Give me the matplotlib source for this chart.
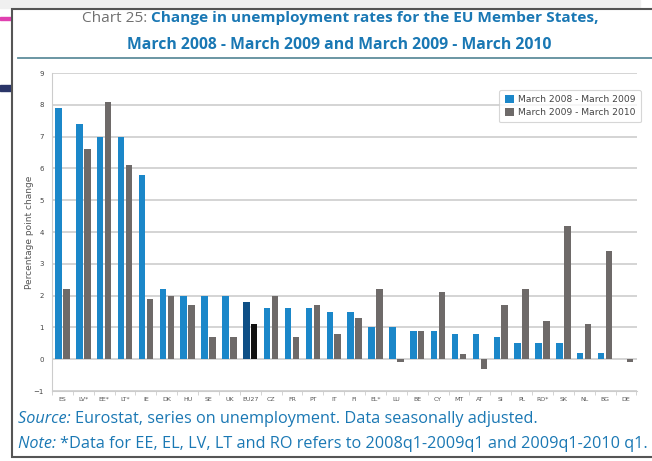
import numpy as np
import matplotlib.pyplot as plt
from matplotlib.patches import Rectangle
from matplotlib.lines import Line2D

countries = ['ES', 'LV*', 'EE*', 'LT*', 'IE', 'DK', 'HU', 'SE', 'UK', 'EU27', 'CZ', 'FR',
             'PT', 'IT', 'FI', 'EL*', 'LU', 'BE', 'CY', 'MT', 'AT', 'SI', 'PL', 'RO*',
             'SK', 'NL', 'BG', 'DE']
chg_0809 = [7.9, 7.4, 7.0, 7.0, 5.8, 2.2, 2.0, 2.0, 2.0, 1.8, 1.6, 1.6,
            1.6, 1.5, 1.5, 1.0, 1.0, 0.9, 0.9, 0.8, 0.8, 0.7, 0.5, 0.5,
            0.5, 0.2, 0.2, 0.0]
chg_0910 = [2.2, 6.6, 8.1, 6.1, 1.9, 2.0, 1.7, 0.7, 0.7, 1.1, 2.0, 0.7,
            1.7, 0.8, 1.3, 2.2, -0.1, 0.9, 2.1, 0.15, -0.3, 1.7, 2.2, 1.2,
            4.2, 1.1, 3.4, -0.1]
legend_labels = ['March 2008 - March 2009', 'March 2009 - March 2010']

blue = '#1b87c9'
grey = '#6e6a69'
txt_blue = '#1a78b4'

fig = plt.figure(figsize=(6.52, 4.61), dpi=100)
W, H = 652, 461
renderer = fig.canvas.get_renderer()

def fx(px):
    return px / W

def fy(py):
    return 1 - py / H

def text_run(x0, y0, parts, **kw):
    # put several text pieces one after another on a line
    x = fx(x0)
    for s, extra in parts:
        t = fig.text(x, fy(y0), s, va='center', ha='left', **kw, **extra)
        bb = t.get_window_extent(renderer)
        x = bb.x1 / fig.bbox.width

# bits of the web page around the screenshot
fig.patches.append(Rectangle((0, fy(20)), fx(13), 3 / H, transform=fig.transFigure,
                             color='#e040b0', zorder=0))
fig.patches.append(Rectangle((0, fy(91)), fx(13), 6 / H, transform=fig.transFigure,
                             color='#2a3568', zorder=0))
fig.patches.append(Rectangle((0, fy(8)), fx(640), 8 / H, transform=fig.transFigure,
                             color='#f0f0f0', zorder=0))
# chart frame
fig.patches.append(Rectangle((fx(12), fy(457)), fx(660 - 12), (457 - 9) / H,
                             transform=fig.transFigure, facecolor='white',
                             edgecolor='#555555', lw=1.5, zorder=1))
fig.lines.append(Line2D([fx(18), 1], [fy(58), fy(58)], transform=fig.transFigure,
                        color='#5f8e9c', lw=1.3, zorder=2))

# title
text_run(82, 18, [('Chart 25: ', dict(color='#707070')),
                  ('Change in unemployment rates for the EU Member States,',
                   dict(color=txt_blue, weight='bold'))],
         fontsize=11.1, family='Open Sans')
fig.text(fx(339), fy(45), 'March 2008 - March 2009 and March 2009 - March 2010',
         color=txt_blue, fontsize=11.3, family='Open Sans', weight='bold',
         va='center', ha='center')

ax = fig.add_axes([fx(52), fy(391), fx(637 - 52), (391 - 73) / H])
ax.set_zorder(5)
ax.patch.set_alpha(0)
x = np.arange(len(countries))
w = 0.31
c1 = [blue] * len(countries)
c2 = [grey] * len(countries)
eu = countries.index('EU27')
c1[eu] = '#0e4f86'
c2[eu] = '#111111'
ax.bar(x - 0.19, chg_0809, width=w, color=c1, label=legend_labels[0], zorder=3)
ax.bar(x + 0.19, chg_0910, width=w, color=c2, label=legend_labels[1], zorder=3)

ax.set_xlim(-0.38, 27.53)
ax.set_ylim(-1, 9)
ax.set_yticks(range(-1, 10))
ax.yaxis.grid(True, color='#d4d4d4', lw=1.4, zorder=0)
ax.set_axisbelow(True)
for s in ['top', 'right']:
    ax.spines[s].set_visible(False)
ax.spines['left'].set_color('#cccccc')
ax.spines['bottom'].set_color('#cccccc')
ax.tick_params(axis='y', length=0, labelsize=5, labelcolor='#444444', pad=6)
ax.set_xticks(x)
ax.set_xticklabels(countries, fontsize=4.5, color='#555555')
ax.tick_params(axis='x', length=0, pad=4)
ax.set_xticks(np.arange(-0.5, len(countries)), minor=True)
ax.tick_params(axis='x', which='minor', length=3, color='#cccccc')
ax.set_ylabel('Percentage point change', fontsize=6.5, color='#555555')
ax.yaxis.set_label_coords(-0.03, 0.5)

leg = ax.legend(loc='upper right', bbox_to_anchor=(1.014, 0.962), fontsize=6.6,
                frameon=True, handlelength=1.0, handleheight=1.0,
                handletextpad=0.4, labelspacing=0.35, borderpad=0.6)
leg.get_frame().set_edgecolor('#cccccc')
leg.get_frame().set_linewidth(0.8)
for t in leg.get_texts():
    t.set_color('#444444')

# footnotes
text_run(18, 419, [('Source: ', dict(style='italic')),
                   ('Eurostat, series on unemployment. Data seasonally adjusted.', {})],
         color=txt_blue, fontsize=11.7, family='Open Sans')
text_run(18, 444, [('Note: ', dict(style='italic')),
                   ('*Data for EE, EL, LV, LT and RO refers to 2008q1-2009q1 and 2009q1-2010 q1.', {})],
         color=txt_blue, fontsize=11.7, family='Open Sans')

fig.savefig('out.png', dpi=100)
